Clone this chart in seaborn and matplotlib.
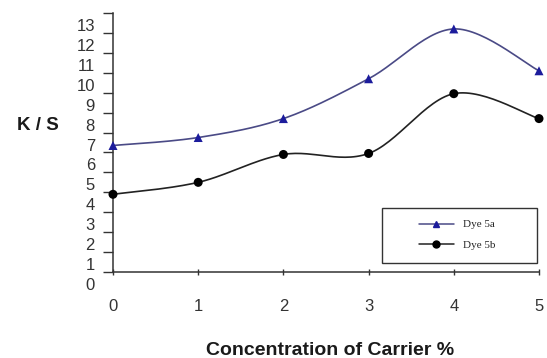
import numpy as np
import pandas as pd
import matplotlib
matplotlib.use("Agg")
import matplotlib.pyplot as plt
import seaborn as sns
from matplotlib.lines import Line2D
from matplotlib.patches import Rectangle
import matplotlib.transforms as mtrans

# ---- data ----
concentration = [0, 1, 2, 3, 4, 5]
dye_5a = [6.95, 7.35, 8.3, 10.3, 12.8, 10.7]
dye_5b = [4.5, 5.1, 6.5, 6.55, 9.55, 8.3]
series_names = ["Dye 5a", "Dye 5b"]
x_tick_labels = ["0", "1", "2", "3", "4", "5"]
y_tick_labels = [str(k) for k in range(14)]

line_colors = {"Dye 5a": "#4a4a86", "Dye 5b": "#222222"}
marker_colors = {"Dye 5a": "#1c1c9c", "Dye 5b": "#000000"}
marker_styles = {"Dye 5a": "^", "Dye 5b": "o"}

sns.set_theme(style="ticks")
plt.rcParams['font.family'] = ['Liberation Sans', 'DejaVu Sans']

fig = plt.figure(figsize=(5.47, 3.58), dpi=100)
ax = fig.add_axes([113 / 547, 1 - 272 / 358, (539 - 113) / 547, (272 - 13) / 358])


def smooth(x, y, steps=30):
    """Excel-like smoothed line (Catmull-Rom as cubic Bezier) through the points."""
    x = np.asarray(x, float)
    y = np.asarray(y, float)
    px = np.concatenate([[x[0]], x, [x[-1]]])
    py = np.concatenate([[y[0]], y, [y[-1]]])
    xs, ys = [], []
    t = np.linspace(0, 1, steps)
    for i in range(1, len(px) - 2):
        p0 = np.array([px[i], py[i]])
        p3 = np.array([px[i + 1], py[i + 1]])
        c1 = p0 + (np.array([px[i + 1], py[i + 1]]) - np.array([px[i - 1], py[i - 1]])) / 6
        c2 = p3 - (np.array([px[i + 2], py[i + 2]]) - np.array([px[i], py[i]])) / 6
        b = ((1 - t) ** 3)[:, None] * p0 + (3 * (1 - t) ** 2 * t)[:, None] * c1 \
            + (3 * (1 - t) * t ** 2)[:, None] * c2 + (t ** 3)[:, None] * p3
        xs.extend(b[:, 0])
        ys.extend(b[:, 1])
    return np.array(xs), np.array(ys)


points = pd.DataFrame({
    "conc": concentration * 2,
    "ks": dye_5a + dye_5b,
    "series": [series_names[0]] * len(concentration) + [series_names[1]] * len(concentration),
})

curves = []
for name, vals in zip(series_names, [dye_5a, dye_5b]):
    sx, sy = smooth(concentration, vals)
    curves.append(pd.DataFrame({"conc": sx, "ks": sy, "series": name, "order": np.arange(len(sx))}))
curves = pd.concat(curves, ignore_index=True)

sns.lineplot(data=curves, x="conc", y="ks", hue="series", palette=line_colors,
             sort=False, estimator=None, units="series", linewidth=1.2,
             legend=False, ax=ax, clip_on=False)
sns.scatterplot(data=points, x="conc", y="ks", hue="series", style="series",
                palette=marker_colors, markers=marker_styles, s=42,
                edgecolor=None, linewidth=0, legend=False, ax=ax, clip_on=False, zorder=5)

ax.set_xlim(0, 5)
ax.set_ylim(0.6, 13.6)
ax.set_xticks(concentration)
ax.set_xticklabels(x_tick_labels)
ax.set_yticks([k + 0.6 for k in range(14)])
ax.set_yticklabels(y_tick_labels)

for s in ["top", "right"]:
    ax.spines[s].set_visible(False)
for s in ["left", "bottom"]:
    ax.spines[s].set_color("#333333")
    ax.spines[s].set_linewidth(1.1)

ax.tick_params(axis="y", direction="out", length=7, width=1, colors="#333333",
               labelsize=12, pad=6, labelcolor="#333333")
ax.tick_params(axis="x", direction="inout", length=5, width=1, colors="#333333",
               labelsize=12, pad=17, labelcolor="#333333")

shift = mtrans.ScaledTranslation(0, -12 / 100, fig.dpi_scale_trans)
for lab in ax.get_yticklabels():
    lab.set_transform(lab.get_transform() + shift)

ax.set_ylabel("K / S", rotation=0, fontsize=13.5, fontweight="bold", color="#1a1a1a",
              ha="center", va="center")
ax.yaxis.set_label_coords(-0.176, 0.564)
ax.set_xlabel("Concentration of Carrier %", fontsize=14, fontweight="bold",
              color="#1a1a1a", ha="center", va="center")
ax.xaxis.set_label_coords(0.509, -0.305)

handles = [
    Line2D([], [], color=line_colors[n], marker=marker_styles[n], markersize=5,
           markerfacecolor=marker_colors[n], markeredgecolor=marker_colors[n], lw=1.1)
    for n in series_names
]
fig.legend(handles, series_names, loc="center", bbox_to_anchor=(457 / 547, 1 - 235 / 358),
           frameon=False, prop={"family": "Liberation Serif", "size": 8},
           handlelength=3.2, handletextpad=0.8, labelspacing=1.0)
fig.add_artist(Rectangle((382 / 547, 1 - 263 / 358), 155 / 547, 55 / 358,
                         transform=fig.transFigure, fill=False,
                         edgecolor="#333333", linewidth=1))

fig.savefig("out.png", dpi=100)
